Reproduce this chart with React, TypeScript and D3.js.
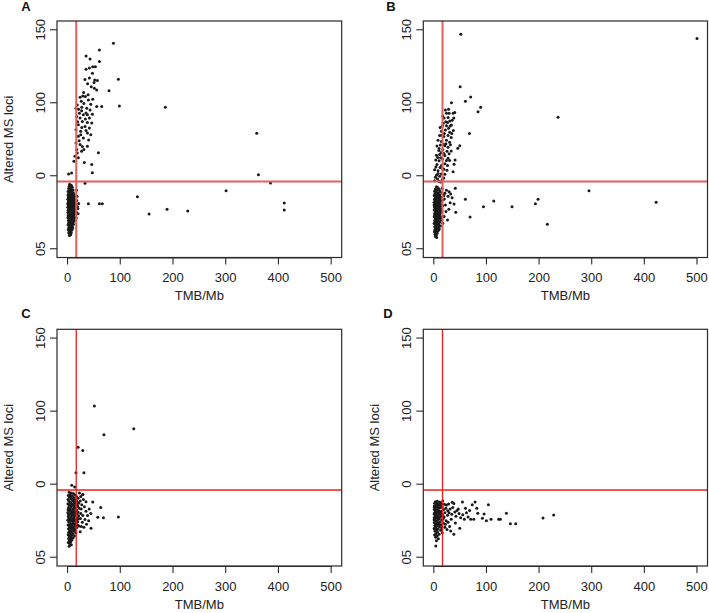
import React from 'react';
import * as d3 from 'd3';

type Pt = [number, number];

const xTicks = [0, 100, 200, 300, 400, 500];
const yTickValues = [0, 50, 100, 150];
const yTickLabels = ['05', '0', '100', '150'];
const panelLetters = ['A', 'B', 'C', 'D'];
const xTitle = 'TMB/Mb';
const yTitle = 'Altered MS loci';
const tmbCutoff = 16.5;
const lociCutoff = 46;

// Panel A
const aCluster: Pt[] = [
  [4,44.2],[7,43.5],[3,42.8],[9,42.1],[5.5,41.7],[2,41.2],[6.5,40.6],[10.5,40.3],[3.5,39.9],[1,39.2],[8,39.5],[4.5,38.8],[5,38.1],[11,38.4],[2.5,37.9],[7.5,37.6],[12,37.2],[0.8,36.8],[3.5,36.5],[9,36.9],[5.8,36.1],[13,35.9],[1.6,35.4],[4.2,35.1],[7.2,35.6],[10.4,35.2],[2.8,34.6],[8.6,34.3],[12.2,34.7],[0.6,33.9],[5.4,33.8],[14,33.4],[3.2,33.1],[7,32.9],[10,33.2],[1.8,32.4],[11.8,32.2],[4.6,31.9],[8.4,31.7],[13.6,31.5],[0.9,31.2],[6.2,31],[2.8,30.6],[9.8,30.8],[15,30.4],[5,30.1],[12.4,30],[1.4,29.5],[7.6,29.4],[3.8,29],[10.8,29.2],[14.2,28.8],[0.5,28.4],[6,28.2],[8.8,28],[2.4,27.6],[12,27.8],[4.4,27.2],[15.4,27.1],[7.4,26.9],[10.2,26.6],[1.2,26.4],[13.2,26.2],[3.2,25.9],[5.8,25.6],[8.6,25.3],[11.4,25],[0.6,24.8],[14.6,24.6],[2.6,24.3],[6.8,24.1],[4.6,23.7],[9.6,23.6],[12.6,23.3],[1.4,23],[7.8,22.7],[3.4,22.4],[10.6,22.2],[5.6,21.9],[13.8,21.8],[0.8,21.4],[8.6,21.2],[2.6,20.8],[11.8,20.6],[6.4,20.4],[4.2,20],[9.4,19.7],[1.6,19.4],[12.8,19.2],[7.2,18.9],[3.4,18.6],[5.4,18.2],[10.4,18],[2,17.6],[8.2,17.4],[4.6,17],[11.2,16.8],[1,16.4],[6.6,16.3],[3.2,15.8],[9,15.6],[5,15.1],[7.6,14.7],[2.2,14.4],[10,14.2],[4,13.7],[6.2,13.3],[1.4,13],[8.4,12.8],[3,12.3],[5.4,11.8],[7,11.2],[2.2,10.8],[4.4,10.2],[6,9.6],[3.6,9.1],
  [3,34.2],[9.4,37.8],[6,37],[11,31.5],[5.2,28.9],[8,23],[3.6,27.1],[11,27.2],[6.6,22.9],[2.2,32.8],[13,29.6],[9.2,26.6],[4.8,24.9],[10.6,20.3],[7,16],[2.4,22],[12.8,24],[1,30.4],[14.4,31.8],[5.8,34.4],[8.8,19.5],[3.8,16.9],[6.8,13.8],[4.4,36.9],[7.8,30.3],
  [17.5,33],[18.5,29],[17,25],[19.5,27.5],[16.5,21],[18,36],[21,31],[20,24],[17,40],[1.9,51.2],[7.6,51.8]
];
const aHigh: Pt[] = [
  [87,140.7],[60.4,136.2],[35.1,132.1],[42.7,130],[60.4,128.2],[35.1,122.9],[41.4,123.8],[47.8,124.7],[52.8,124.7],[47.2,120.2],[96.4,116.1],[41.4,117],[51.5,115.6],[56.6,115.2],[50.3,113.8],[78.7,108.3],[55.3,108.8],[50.9,109.9],[28.8,104.6],[23.7,103.7],[33.8,104.2],[39.5,101.9],[47.8,102.4],[55.3,97.4],[64.8,97.4],[98.3,97.8],[18.5,98.5],[16,96.3],[26.7,94.5],[36.4,96.3],[42.7,95.1],[22.5,92.8],[30,91.7],[37.7,91.7],[47.2,92.2],[17.3,90.6],[23.7,89.5],[33.8,88.8],[41.4,89.5],[28.1,87.2],[37.7,86.5],[45.9,86.1],[20.5,85],[33.2,83.8],[41.4,82.7],[16,81.5],[24.9,80.4],[37.7,79.3],[20.5,77],[30,75.9],[44,78.1],[16,72.5],[23.7,71.4],[37.7,70.2],[17.3,68],[26.7,66.8],[14,63.4],[20.5,62.3],[58.5,65.7],[12.1,60],[45.9,57.7],[31.9,59],[47,52],[33.2,44.8],[39.5,30.9],[60.4,30.9],[66,30.9],
  [31,99.5],[35,93],[27,97],[44,99],[39,105.5],[30.5,107],[45,111],[38,113],[33,116],[26,101],[21,95.5],[19,87],[27,83],[35,81],[22,74],[28,70],[18.5,65.5],[31,68],[25,78],[40,74.5],
  [185.5,96.9],[358.9,79.1],[362,50.7],[300.7,39.8],[132.5,35.6],[154.6,23.8],[188.7,27],[228,25.8],[385,45],[411,31.3],[411,26.5]
];

// Panel B
const bCluster: Pt[] = [
  [5,42.5],[8,41.8],[3,41],[10,40.6],[6,40.1],[1.5,39.4],[12,39.2],[4,38.7],[8.5,38.3],[2,37.6],[6.5,37.2],[11,37],[0.8,36.4],[4.8,36.1],[9.2,35.8],[13,35.5],[2.8,35],[7,34.7],[11.4,34.4],[1.2,33.9],[5.2,33.6],[9.6,33.3],[13.8,33],[3.4,32.6],[7.6,32.3],[0.6,31.8],[11.8,31.6],[5.6,31.2],[2,30.7],[9,30.5],[14.6,30.2],[4,29.8],[7.2,29.4],[12,29.1],[1,28.7],[10.4,28.4],[5.6,28],[3,27.6],[8.4,27.3],[14,27],[0.6,26.6],[6.4,26.2],[11.6,25.9],[2.8,25.5],[9,25.2],[4.6,24.7],[13,24.5],[1.4,24.1],[7.4,23.8],[10.6,23.4],[3.8,23],[5.8,22.6],[12.4,22.3],[0.8,21.9],[8.6,21.6],[2.6,21.1],[6.2,20.7],[10.8,20.4],[4.4,20],[14.2,19.8],[1.6,19.4],[8,19.1],[3.2,18.6],[11.8,18.3],[5.8,17.9],[0.8,17.4],[9.4,17.2],[2.6,16.7],[7,16.4],[4.6,15.9],[12.6,15.6],[1.6,15.1],[8.6,14.8],[3.6,14.3],[6,13.9],[10.4,13.5],[2,13],[4.8,12.5],[7.8,12.1],[1,11.6],[3.4,11.1],[6.2,10.6],[2.4,9.9],[4.6,9.2],[3,8.4],[5.4,7.7],
  [6,35.5],[3.6,30.4],[9.8,27.9],[6.6,24.6],[2.2,28.2],[11,32.4],[8.2,36.6],[4.2,26.8],[12.8,27.6],[1.8,22.7],[7.2,19.9],[9.6,22.4],[5,21.4],[3,33.3],[13.4,21.2],[0.6,30],[10,16],[6.8,30.9],[4,17.6],[8.8,12.9],
  [16,38],[17.5,33.5],[15.5,26],[18,22],[16.8,29.5],[17,17.5],[15.8,41.5],[19,36.5]
];
const bHigh: Pt[] = [
  [33.5,100],[24,92.8],[29,92.8],[36.7,92.8],[39.8,93.4],[19.6,89.5],[27.2,89.9],[30.3,87.5],[22.7,87],[16.4,84],[24,84.3],[33.5,84.8],[14.5,80.5],[22,81.3],[30,79.8],[37,81],[11,77.5],[19,76.8],[27,77.6],[33,76.2],[8,74.3],[14.5,73.5],[24,74.3],[30,73],[6,70.3],[12.5,71],[21,70.6],[27,69.5],[9.5,67.3],[17,68],[25,66.8],[5,64.1],[11,64.6],[21,63.9],[29,65],[3.8,60.8],[10,60.2],[16.4,61.4],[24,60.5],[6,57.7],[14.5,57],[21,58.3],[1.5,54.1],[8,53.4],[17,55],[25,53.8],[5,50.3],[11,49.6],[21,51],[1.5,46.5],[9.5,46.1],[16,47.2],
  [18,86],[26,86.5],[20,79],[28,82.5],[15,77.8],[23,72],[18,71.5],[10,68.7],[14,66],[19,65.2],[7.5,62.5],[13,62.3],[27,62],[4,56],[12,55.6],[19,54.5],[8,51.5],[14,51.2],[3,49],[13,45.8],[7,47.8],[31,84],[35,88],[28,95.6],[22,95],[17,91],[12,83],[31.5,71.3],[26,57],[19,48.5],[38,89.5],[34,79],
  [51.2,147],[500,144],[50,111],[70,104],[60,101],[89,96.9],[84,93.9],[236,90],[67.7,79],[49.3,70.6],[45.5,68.8],[40.4,60.8],[38.5,57.8],[36.6,52.8],[40.8,41.4],[33,67],[30,60.5],
  [24,40],[29,39],[21,38],[32,37.5],[34.7,35],[27,36],[38.5,30.6],[28.5,27],[41.7,25],[26,19.7],[19.5,22],[68.9,21.7],[113.9,32.7],[94.3,28.8],[148.6,28.8],[193,30.9],[198,33.9],[215.7,16.7],[294.8,39.8],[422.5,31.8],[60,33.9],[22,30],[31,31.5],[23,25.5],[20,34]
];

// Panel C
const cCluster: Pt[] = [
  [3,44.5],[7,44],[11,43.6],[5,43],[14,42.6],[1.5,42.2],[9,41.8],[17,41.5],[4,41],[12,40.6],[20,40.3],[6.5,40],[1,39.5],[15,39.2],[9.5,38.8],[3,38.4],[18,38.1],[12.5,37.7],[6,37.4],[21,37],[0.8,36.6],[9,36.3],[15.5,36],[4,35.6],[11.8,35.2],[19,34.9],[7,34.5],[1.8,34.1],[14.2,33.8],[22,33.5],[5,33.1],[10,32.7],[17,32.4],[2.6,32],[8,31.6],[13,31.3],[20,31],[0.6,30.6],[5.8,30.2],[11,29.9],[16,29.6],[3.6,29.2],[8.8,28.8],[14,28.5],[21,28.2],[1.4,27.8],[6.6,27.4],[11.8,27.1],[18,26.8],[4.2,26.4],[9.4,26],[15,25.7],[0.6,25.3],[7,24.9],[12.6,24.6],[19.4,24.3],[2.8,23.9],[9.8,23.5],[16,23.2],[5.2,22.8],[13,22.4],[1,22],[8.2,21.6],[21.6,21.3],[3.8,20.9],[11,20.6],[17.4,20.3],[6,19.9],[1.8,19.5],[14,19.2],[9,18.8],[4,18.3],[12,17.9],[7,17.5],[2.2,17],[16,16.7],[10,16.3],[5,15.8],[1.2,15.4],[8,15],[13.4,14.7],[3.4,14.2],[6.4,13.7],[10.6,13.3],[2,12.8],[4.8,12.2],[8.4,11.8],[3,11.2],[6,10.6],[1.4,10],[4.2,9.3],[7.2,8.6],[3,7.6],
  [5.6,41.6],[10.6,39.7],[2.4,36.1],[7.8,35.9],[13.6,37.1],[17.8,35.7],[4.4,32.2],[12,33.6],[9.4,30.5],[15,31],[2,29],[7,29.8],[18.6,29.8],[12.6,27.8],[5.4,25.5],[10.6,24.9],[16.8,25.4],[2.4,26.4],[8.2,22.6],[14.6,21.6],[3.2,21.6],[6.8,20.8],[19,22],[11.6,18.4],[5.6,17.4],[9.2,20],[14.8,17.6],[1,32.6],[20.4,26.2],[7.4,13],[4,16.6],
  [24,38.5],[27,36],[30,39.5],[26,33],[32,34.6],[25,30],[29,28.5],[35,31.5],[24.5,26.5],[28,24],[33,25.8],[38,28.5],[26,21],[31,20.5],[24,17.5],[36,22.5],[41,33],[44,30],[40,25],[25,41.5],[22.5,44],[29,43],[35,38]
];
const cHigh: Pt[] = [
  [50.9,103.5],[69,83.8],[125.6,88],[20,75.2],[28.8,73],[16,57.9],[31,57.9],[8,49.3],[13.6,48],[28.8,43],[47.8,37.8],[63,34],[96.4,27.5],[57.3,27.4],[68,27],[44.6,19.8]
];

// Panel D
const dCluster: Pt[] = [
  [3,38],[6.5,38.3],[11,37.8],[17,38.5],[1.5,37],[8.5,36.6],[14,36.9],[4.5,36],[20,36.3],[10.5,35.5],[1,35],[6.5,34.8],[16,34.6],[3,34],[12.5,33.8],[8,33.3],[23,33.5],[0.8,32.6],[5,32.4],[18.5,32.6],[10,31.8],[14.5,31.5],[2.8,31.2],[7,30.8],[21,30.5],[12,30.2],[0.6,29.8],[4.6,29.6],[9.4,29.2],[16.4,29],[26,28.8],[2.2,28.4],[6.6,28],[13.2,27.8],[19.6,27.5],[0.8,27],[4,26.6],[10.4,26.4],[8,25.9],[15.4,25.6],[2.4,25.2],[23.4,25],[5.6,24.6],[12,24.2],[0.8,23.8],[18,23.4],[3.8,23],[8.6,22.6],[14.6,22.2],[1.8,21.7],[6,21.3],[10.6,20.8],[21,20.5],[3.6,20.2],[0.6,19.6],[8,19.4],[5,18.7],[13,18.4],[2,17.9],[7,17.3],[16,16.8],[4,16.2],[10,15.8],[1.4,15.2],[6.4,14.5],[3.4,13.6],[8.6,12.6],[5,11.2],[3.8,7.7],[2.4,33.2],[6,36.8],[4.4,21.8],[1.6,30.2],[9,27.4],[12.4,35.7],[17.8,26.2],[11,22.4],[6.8,31.6],[3.2,27.8],[15,20.2],[0.6,25.6],[5.4,27.2],[7.6,23.6],[2.8,19.3],[1.2,34.2],[9.6,33.9],[13.6,29.6],[4,31.5],
  [28,36.5],[31,33],[34,29.5],[27,24],[30,21],[36,34],[40,31],[33,26],[38,36.8],[44,32],[46.5,33],[42,28],[48,30],[29,30.5],[25,19],[24,35.8],[26.5,31.8],[35,37.6],[22,22.5],[38,15.7],[49.3,19.8],[32,18],[41,23.5],[51,27],[55,29],[58,26]
];
const dHigh: Pt[] = [
  [54.4,37.8],[60.1,33.5],[78.4,37.8],[81.6,33.5],[83.5,30.1],[103.7,36],[95.4,29.6],[92.3,26.7],[99.9,25],[75.9,26],[70,26],[65,27.5],[62,30.5],[108.7,26],[123.3,26],[126.5,26],[137.9,30.1],[145.5,23],[155.6,23],[207.4,26.9],[227.7,28.9],[68,32],[73,36]
];

const panelData: Pt[][] = [
  [...aCluster, ...aHigh],
  [...bCluster, ...bHigh],
  [...cCluster, ...cHigh],
  [...dCluster, ...dHigh],
];

const FONT = '"Liberation Sans", Arial, Helvetica, sans-serif';

interface Layout {
  x0: number; y0: number; w: number; h: number;
  letterX: number; letterY: number; yTitle: boolean; thick: boolean;
}

const layouts: Layout[] = [
  { x0: 57, y0: 21, w: 284.7, h: 236.5, letterX: 26, letterY: 11, yTitle: true, thick: true },
  { x0: 423.3, y0: 21, w: 284.2, h: 236.5, letterX: 391, letterY: 11, yTitle: false, thick: true },
  { x0: 57, y0: 329.3, w: 284.7, h: 236.7, letterX: 26, letterY: 318, yTitle: true, thick: false },
  { x0: 423.3, y0: 329.3, w: 284.2, h: 236.7, letterX: 388, letterY: 318, yTitle: true, thick: false },
];

function Panel({ layout, data, letter }: { layout: Layout; data: Pt[]; letter: string }) {
  const { x0, y0, w, h } = layout;
  const x = d3.scaleLinear().domain([-20, 520]).range([x0, x0 + w]);
  const y = d3.scaleLinear().domain([-6, 156]).range([y0 + h, y0]);
  const bottom = y0 + h;
  const lineColor = layout.thick ? '#e35f5f' : '#f01c1c';
  const lineW = layout.thick ? 2 : 1.3;
  return (
    <g>
      <text x={layout.letterX} y={layout.letterY} fontFamily={FONT} fontWeight="bold" fontSize={13} textAnchor="middle" fill="#111">{letter}</text>
      {data.map((d, i) => (
        <circle key={i} cx={x(d[0])} cy={y(d[1])} r={1.5} fill="#1a1a1a" />
      ))}
      <line x1={x(tmbCutoff)} x2={x(tmbCutoff)} y1={y0} y2={bottom} stroke={lineColor} strokeWidth={lineW} />
      <line x1={x0} x2={x0 + w} y1={y(lociCutoff)} y2={y(lociCutoff)} stroke={lineColor} strokeWidth={lineW} />
      <rect x={x0} y={y0} width={w} height={h} fill="none" stroke="#2a2a2a" strokeWidth={1.2} />
      {xTicks.map((t) => (
        <g key={'x' + t}>
          <line x1={x(t)} x2={x(t)} y1={bottom} y2={bottom + 7} stroke="#2a2a2a" strokeWidth={1.1} />
          <text x={x(t)} y={bottom + 24.5} fontFamily={FONT} fontSize={13} textAnchor="middle" fill="#222">{t}</text>
        </g>
      ))}
      <line x1={x(0)} x2={x(500)} y1={bottom + 0.5} y2={bottom + 0.5} stroke="#2a2a2a" strokeWidth={1} />
      {yTickValues.map((t, i) => (
        <g key={'y' + t}>
          <line x1={x0 - 7} x2={x0} y1={y(t)} y2={y(t)} stroke="#2a2a2a" strokeWidth={1.1} />
          <text transform={`translate(${x0 - 17},${y(t)}) rotate(-90)`} dy="0.36em" fontFamily={FONT} fontSize={13} textAnchor="middle" fill="#222">{yTickLabels[i]}</text>
        </g>
      ))}
      <text x={x0 + w / 2} y={bottom + 42.5} fontFamily={FONT} fontSize={13} textAnchor="middle" fill="#222">{xTitle}</text>
      {layout.yTitle && (
        <text transform={`translate(${x0 - 44},${y0 + h / 2}) rotate(-90)`} fontFamily={FONT} fontSize={13} textAnchor="middle" fill="#222">{yTitle}</text>
      )}
    </g>
  );
}

export default function App() {
  return (
    <svg width={709} height={613} style={{ position: 'absolute', left: 0, top: 0, background: '#fff' }}>
      <rect x={0} y={0} width={709} height={613} fill="#fff" />
      {layouts.map((l, i) => (
        <Panel key={i} layout={l} data={panelData[i]} letter={panelLetters[i]} />
      ))}
    </svg>
  );
}
